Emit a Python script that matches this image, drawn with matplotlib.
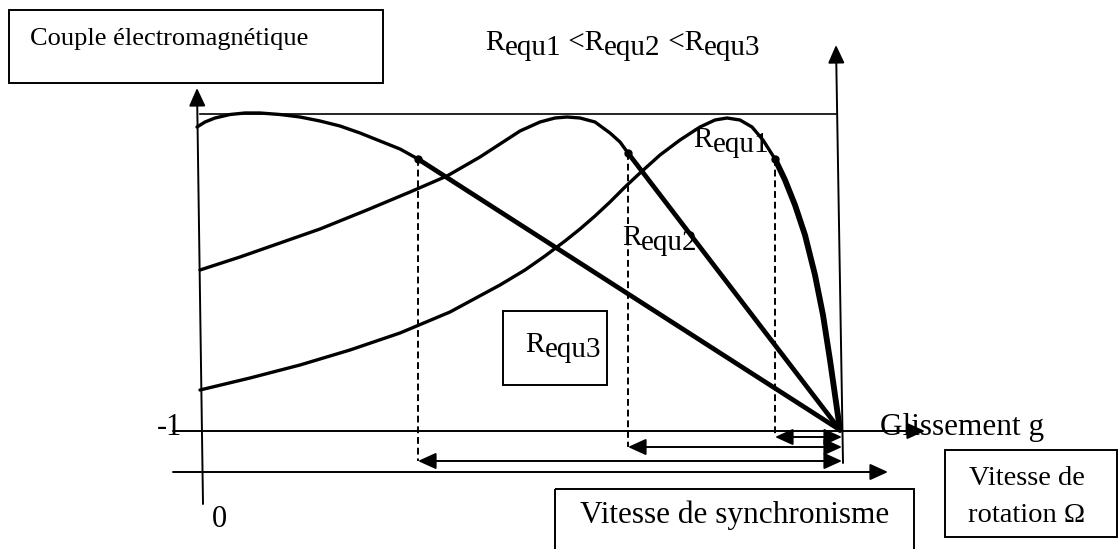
import matplotlib
matplotlib.use("Agg")
import matplotlib.pyplot as plt
from matplotlib.patches import FancyArrowPatch, Rectangle

# schematic drawn in pixel units (x to the right, y downwards)
W, H = 1119, 549
serif = "Liberation Serif"

# torque / slip curves, one per rotor resistance
r3_x = [197, 205, 215, 230, 245, 260, 280, 300, 320, 340, 360, 380, 400, 418]
r3_y = [127, 122, 118, 114.5, 113, 113, 114.5, 117, 121, 126, 133, 141, 149, 159]
r2_x = [200, 240, 280, 320, 367, 410, 447, 480, 500, 520, 540, 555, 567, 580, 595, 610, 620, 628]
r2_y = [270, 257, 243, 229, 210, 192, 176, 157, 144, 131, 122, 118, 117, 118, 122, 133, 142, 153]
r1_x = [200, 250, 300, 350, 400, 450, 500, 525, 545, 565, 580, 595, 610, 625, 640, 660, 680,
        700, 715, 727, 740, 752, 763, 775]
r1_y = [390, 378, 365, 350, 333, 312, 285, 270, 256, 241, 229, 216, 202, 187, 173, 155, 140,
        127, 120, 118, 120, 127, 140, 159]

# stable parts (thick), all ending at the synchronism point
sync_x, sync_y = 840, 430
r1_stable_x = [775, 785, 795, 805, 815, 823, 830, 835, 840]
r1_stable_y = [159, 180, 205, 235, 275, 315, 360, 395, 430]

# breakdown points and the slip ranges below them
dot_x = [418, 628, 775]
dot_y = [159, 153, 159]
range_y = [461, 447, 437]
range_right = 842

fig = plt.figure(figsize=(W / 100, H / 100), dpi=100)
ax = fig.add_axes([0, 0, 1, 1])
ax.set_xlim(0, W)
ax.set_ylim(H, 0)
ax.axis("off")


def arrow(x0, y0, x1, y1, style="-|>", lw=1.4):
    ax.add_patch(FancyArrowPatch((x0, y0), (x1, y1),
                                 arrowstyle=style + ",head_length=1.1,head_width=0.5",
                                 mutation_scale=10, lw=lw, color="black",
                                 shrinkA=0, shrinkB=0))


def box(x0, y0, x1, y1):
    ax.add_patch(Rectangle((x0, y0), x1 - x0, y1 - y0, fill=False,
                           ec="black", lw=1.4, zorder=3))


def requ(x, y, num, size=21):
    r = ax.text(x, y, "R", fontsize=size, family=serif, va="baseline", zorder=5)
    return ax.annotate("equ" + num, xy=(1, 0), xycoords=r, xytext=(0, -3.5),
                       textcoords="offset points", va="bottom", ha="left",
                       fontsize=size, family=serif, zorder=5)


# axes of the diagram
arrow(203, 504, 197, 88)              # couple
arrow(843, 463, 836, 45)              # right axis
arrow(173, 431, 925, 431)             # glissement
arrow(173, 472, 888, 472)             # vitesse de rotation
ax.plot([200, 836], [114, 114], color="black", lw=1.2)

# curves
ax.plot(r3_x, r3_y, color="black", lw=2.4, solid_capstyle="round", solid_joinstyle="round")
ax.plot(r2_x, r2_y, color="black", lw=2.4, solid_capstyle="round", solid_joinstyle="round")
ax.plot(r1_x, r1_y, color="black", lw=2.4, solid_capstyle="round", solid_joinstyle="round")
ax.plot([dot_x[0], sync_x], [dot_y[0], sync_y], color="black", lw=3.4, solid_capstyle="round")
ax.plot([dot_x[1], sync_x], [dot_y[1], sync_y], color="black", lw=3.4, solid_capstyle="round")
ax.plot(r1_stable_x, r1_stable_y, color="black", lw=4.2, solid_capstyle="round",
        solid_joinstyle="round")
ax.plot(dot_x, dot_y, "o", color="black", ms=5)

# dashed verticals and slip ranges
for x, y0, y1 in zip(dot_x, dot_y, range_y):
    ax.plot([x, x], [y0, y1], color="black", lw=1.4, ls=(0, (3.5, 2)))
    arrow(x, y1, range_right, y1, style="<|-|>")

# boxes
box(9, 10, 383, 83)
box(503, 311, 607, 385)
box(555, 489, 914, 560)
box(945, 450, 1117, 537)

# texts
ax.text(30, 45, "Couple électromagnétique", fontsize=19, family=serif, va="baseline")
ax.text(880, 435, "Glissement g", fontsize=22.5, family=serif, va="baseline", zorder=5)
ax.text(157, 435, "-1", fontsize=22, family=serif, va="baseline", zorder=5)
ax.text(212, 527, "0", fontsize=22, family=serif, va="baseline")
ax.text(734.5, 523, "Vitesse de synchronisme", fontsize=22.5, family=serif,
        va="baseline", ha="center")
ax.text(1027, 485, "Vitesse de", fontsize=20.5, family=serif, va="baseline", ha="center")
ax.text(1027, 522, "rotation Ω", fontsize=20.5, family=serif, va="baseline", ha="center")

# resistance labels
s = requ(485, 50, "1")
for num in ["2", "3"]:
    lt = ax.annotate(" <R", xy=(1, 0), xycoords=s, xytext=(0, 3.5),
                     textcoords="offset points", va="bottom", ha="left",
                     fontsize=21, family=serif)
    s = ax.annotate("equ" + num, xy=(1, 0), xycoords=lt, xytext=(0, -3.5),
                    textcoords="offset points", va="bottom", ha="left",
                    fontsize=21, family=serif)
requ(693, 147, "1")
requ(622, 245, "2")
requ(525, 352, "3")

fig.savefig("out.png", dpi=100)
